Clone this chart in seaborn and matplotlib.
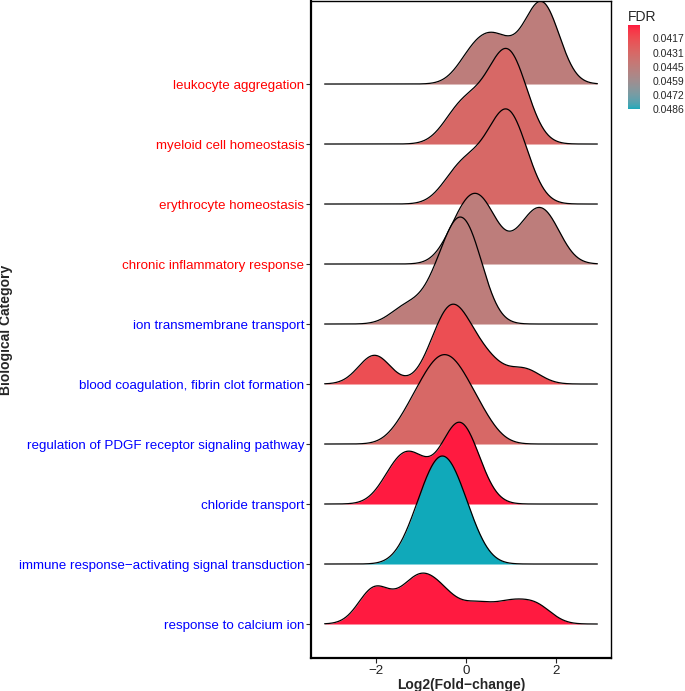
import numpy as np
import matplotlib
matplotlib.use("Agg")
import matplotlib.pyplot as plt
import matplotlib.colors as mcolors
import matplotlib as mpl
import seaborn as sns

# categories from top to bottom of the chart
categories = [
    "leukocyte aggregation",
    "myeloid cell homeostasis",
    "erythrocyte homeostasis",
    "chronic inflammatory response",
    "ion transmembrane transport",
    "blood coagulation, fibrin clot formation",
    "regulation of PDGF receptor signaling pathway",
    "chloride transport",
    "immune response\u2212activating signal transduction",
    "response to calcium ion",
]
label_colors = ["red"] * 4 + ["blue"] * 6
fdr = [0.0445, 0.0431, 0.0431, 0.0445, 0.0445, 0.0418, 0.0431, 0.0404, 0.0486, 0.0404]

# log2 fold-change of the genes in each category
leukocyte_aggregation = [0.12, 0.5, 0.82, 1.42, 1.6, 1.78, 1.87]
myeloid_cell_homeostasis = [-0.3, -0.05, 0.15, 0.45, 0.65, 0.78, 0.88, 0.95, 1.02, 1.12, 1.3]
erythrocyte_homeostasis = [-0.32, -0.05, 0.15, 0.45, 0.65, 0.78, 0.88, 0.95, 1.02, 1.12, 1.32]
chronic_inflammatory_response = [-0.2, 0.08, 0.3, 0.52, 1.32, 1.65, 1.87]
ion_transmembrane_transport = [-1.35, -0.75, -0.5, -0.35, -0.25, -0.15, -0.05, 0.05, 0.15, 0.25]
blood_coagulation = [-2.1, -1.98, -0.7, -0.5, -0.4, -0.3, -0.2, -0.05, 0.2, 0.55, 1.3]
pdgf_receptor_signaling = [-1.34, -1.02, -0.83, -0.68, -0.55, -0.41, -0.28, -0.13, 0.06, 0.38]
chloride_transport = [-1.65, -1.42, -1.22, -1.0, -0.45, -0.3, -0.2, -0.1, 0.05, 0.2]
immune_response_signal = [-1.17, -0.93, -0.79, -0.68, -0.58, -0.48, -0.38, -0.27, -0.13, 0.11]
response_to_calcium_ion = [-2.08, -2.0, -1.3, -1.05, -0.8, -0.45, 0.25, 0.95, 1.55]

fold_changes = [
    leukocyte_aggregation, myeloid_cell_homeostasis, erythrocyte_homeostasis,
    chronic_inflammatory_response, ion_transmembrane_transport, blood_coagulation,
    pdgf_receptor_signaling, chloride_transport, immune_response_signal,
    response_to_calcium_ion,
]

fdr_ticks = [0.0417, 0.0431, 0.0445, 0.0459, 0.0472, 0.0486]
fdr_limits = (0.0404, 0.0486)
low_colour = "#FF1A40"
high_colour = "#10A9BA"

bandwidth = 0.35
ridge_scale = 1.8


def to_lab(rgb):
    rgb = np.asarray(rgb, dtype=float)
    lin = np.where(rgb > 0.04045, ((rgb + 0.055) / 1.055) ** 2.4, rgb / 12.92)
    m = np.array([[0.4124, 0.3576, 0.1805],
                  [0.2126, 0.7152, 0.0722],
                  [0.0193, 0.1192, 0.9505]])
    xyz = m @ lin / np.array([0.95047, 1.0, 1.08883])
    f = np.where(xyz > 0.008856, np.cbrt(xyz), 7.787 * xyz + 16 / 116)
    return np.array([116 * f[1] - 16, 500 * (f[0] - f[1]), 200 * (f[1] - f[2])])


def from_lab(lab):
    fy = (lab[0] + 16) / 116
    f = np.array([fy + lab[1] / 500, fy, fy - lab[2] / 200])
    xyz = np.where(f ** 3 > 0.008856, f ** 3, (f - 16 / 116) / 7.787)
    xyz = xyz * np.array([0.95047, 1.0, 1.08883])
    m = np.array([[3.2406, -1.5372, -0.4986],
                  [-0.9689, 1.8758, 0.0415],
                  [0.0557, -0.2040, 1.0570]])
    lin = m @ xyz
    rgb = np.where(lin > 0.0031308, 1.055 * np.abs(lin) ** (1 / 2.4) - 0.055, 12.92 * lin)
    return np.clip(rgb, 0, 1)


# gradient interpolated in CIELAB like ggplot2's scale_fill_gradient
lab_lo = to_lab(mcolors.to_rgb(low_colour))
lab_hi = to_lab(mcolors.to_rgb(high_colour))
cmap = mcolors.ListedColormap(
    [from_lab(lab_lo + (lab_hi - lab_lo) * t) for t in np.linspace(0, 1, 256)])
norm = mcolors.Normalize(*fdr_limits)

sns.set_style("white")
plt.rcParams["font.family"] = ["Liberation Sans", "DejaVu Sans"]

fig = plt.figure(figsize=(6.85, 6.91), dpi=100)
ax = fig.add_axes([0.454, 0.0478, 0.438, 0.9508])

# densities evaluated over the data range extended by 3 bandwidths
all_values = np.concatenate(fold_changes)
grid = np.linspace(all_values.min() - 3 * bandwidth, all_values.max() + 3 * bandwidth, 512)
densities = []
for vals in fold_changes:
    v = np.asarray(vals)
    d = np.exp(-0.5 * ((grid[:, None] - v[None, :]) / bandwidth) ** 2).sum(axis=1)
    densities.append(d / (len(v) * bandwidth * np.sqrt(2 * np.pi)))
dmax = max(d.max() for d in densities)

n = len(categories)
top = 0
for i, (name, d) in enumerate(zip(categories, densities)):
    base = n - i
    ridge = base + ridge_scale * d / dmax
    top = max(top, ridge.max())
    ax.fill_between(grid, base, ridge, color=cmap(norm(fdr[i])), lw=0, zorder=2 * i)
    sns.lineplot(x=grid, y=ridge, ax=ax, color="black", lw=0.9, zorder=2 * i + 1,
                 estimator=None, sort=False)

span = grid[-1] - grid[0]
ax.set_xlim(grid[0] - 0.05 * span, grid[-1] + 0.05 * span)
ax.set_ylim(0.434, max(11.364, top + 0.005))
ax.set_yticks(range(n, 0, -1))
ax.set_yticklabels(categories, fontsize=9.6)
for lab, c in zip(ax.get_yticklabels(), label_colors):
    lab.set_color(c)
ax.set_xticks([-2, 0, 2])
ax.tick_params(axis="x", labelsize=9.6, colors="#222222", length=3.5, width=0.8, pad=1.5)
ax.tick_params(axis="y", length=3.5, width=0.8, color="#333333", pad=1.5)
ax.tick_params(axis="both", bottom=True, left=True)
ax.set_xlabel("Log2(Fold\u2212change)", fontsize=10, fontweight="bold", labelpad=1)
ax.set_ylabel("Biological Category", fontsize=10, fontweight="bold", labelpad=4)
for side, w in [("left", 1.6), ("bottom", 1.6), ("top", 1.0), ("right", 1.0)]:
    ax.spines[side].set_color("black")
    ax.spines[side].set_linewidth(w)

# FDR colour bar, low values on top
cax = fig.add_axes([0.917, 0.842, 0.0175, 0.122])
cb = mpl.colorbar.ColorbarBase(cax, cmap=cmap, norm=norm, ticks=fdr_ticks)
cb.outline.set_visible(False)
cax.invert_yaxis()
cax.yaxis.set_ticks_position("both")
cax.tick_params(axis="y", direction="in", color="white", length=2.5, width=0.6,
                labelsize=7.5, labelright=True, labelleft=False, pad=9)
cb.set_ticklabels([f"{t:.4f}" for t in fdr_ticks])
fig.text(0.917, 0.975, "FDR", fontsize=10, ha="left", va="center")

fig.savefig("out.png", dpi=100)
